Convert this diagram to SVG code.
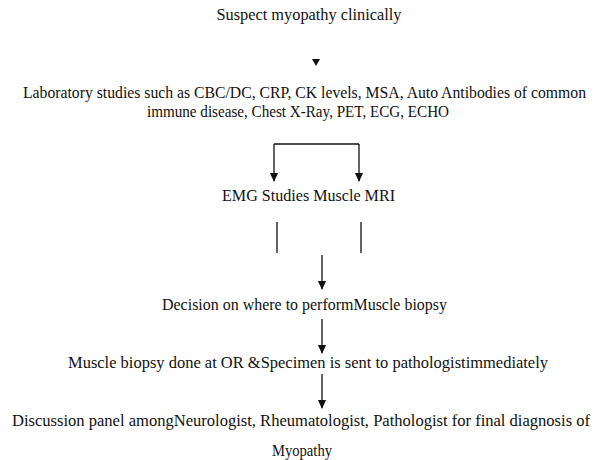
<svg xmlns="http://www.w3.org/2000/svg" width="595" height="460" viewBox="0 0 595 460">
<style>
text{font-family:"Liberation Serif","DejaVu Serif","Times New Roman",serif;font-size:16px;fill:#111;}
.c{text-anchor:middle;}
.ln{stroke:#111;stroke-width:1.3;fill:none;}
</style>
<defs>
<marker id="ad" viewBox="0 0 9 8" refX="8" refY="4" markerWidth="9" markerHeight="8" markerUnits="userSpaceOnUse" orient="auto">
<path d="M0,0 L9,4 L0,8 Z" fill="#111"/>
</marker>
</defs>
<rect width="595" height="460" fill="#fff"/>
<g id="n1"><text x="309" y="20" class="c" textLength="185" lengthAdjust="spacingAndGlyphs">Suspect myopathy clinically</text></g>
<g id="n2">
<text x="23" y="98" textLength="563" lengthAdjust="spacingAndGlyphs">Laboratory studies such as CBC/DC, CRP, CK levels, MSA, Auto Antibodies of common</text>
<text x="147" y="117" textLength="302" lengthAdjust="spacingAndGlyphs">immune disease, Chest X-Ray, PET, ECG, ECHO</text>
</g>
<g id="n3"><text x="222" y="201" textLength="173" lengthAdjust="spacingAndGlyphs">EMG Studies Muscle MRI</text></g>
<g id="n4"><text x="162" y="310" textLength="285" lengthAdjust="spacingAndGlyphs">Decision on where to performMuscle biopsy</text></g>
<g id="n5"><text x="68" y="368" textLength="480" lengthAdjust="spacingAndGlyphs">Muscle biopsy done at OR &amp;Specimen is sent to pathologistimmediately</text></g>
<g id="n6">
<text x="12" y="426" textLength="578" lengthAdjust="spacingAndGlyphs">Discussion panel amongNeurologist, Rheumatologist, Pathologist for final diagnosis of</text>
<text x="272" y="456" textLength="60" lengthAdjust="spacingAndGlyphs">Myopathy</text>
</g>
<g id="connectors">
<path d="M312,59 L320,59 L316,66 Z" fill="#111"/>
<path class="ln" d="M274,144 L359,144"/>
<line class="ln" x1="274" y1="144" x2="274" y2="181" marker-end="url(#ad)"/>
<line class="ln" x1="359" y1="144" x2="359" y2="181" marker-end="url(#ad)"/>
<line class="ln" x1="277" y1="222" x2="277" y2="253"/>
<line class="ln" x1="361" y1="222" x2="361" y2="253"/>
<line class="ln" x1="322" y1="255" x2="322" y2="289" marker-end="url(#ad)"/>
<line class="ln" x1="322" y1="319" x2="322" y2="353" marker-end="url(#ad)"/>
<line class="ln" x1="322" y1="374" x2="322" y2="408" marker-end="url(#ad)"/>
</g>
</svg>
